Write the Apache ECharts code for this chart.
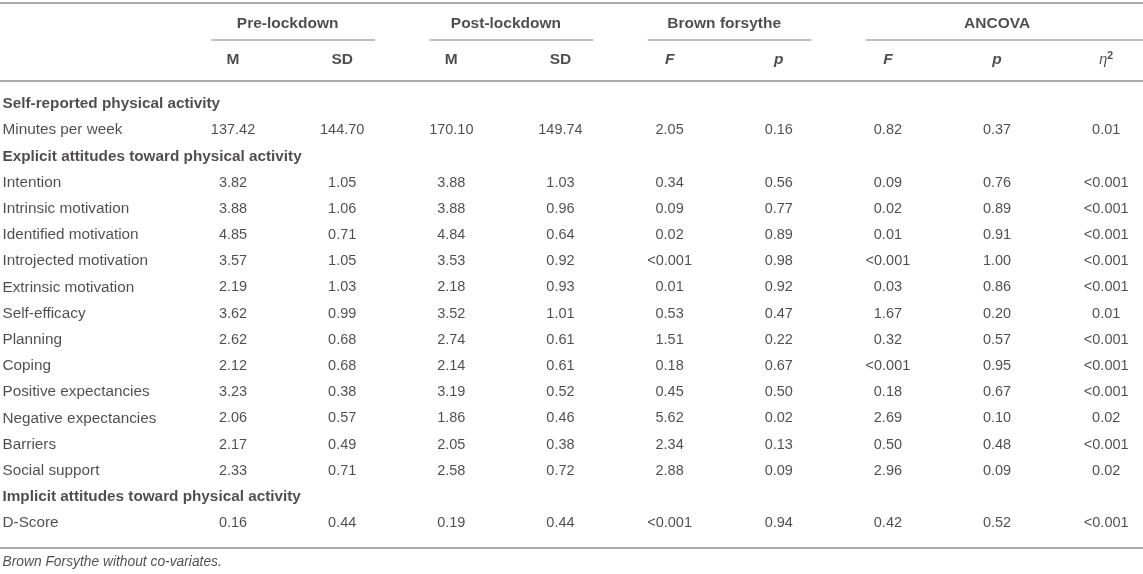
<!DOCTYPE html>
<html>
<head>
<meta charset="utf-8">
<script src="https://cdn.jsdelivr.net/npm/echarts@6/dist/echarts.min.js"></script>
<style>
  html, body { margin: 0; padding: 0; background: #fff; }
  #chart { width: 1143px; height: 574px; }
</style>
</head>
<body>
<div id="chart"></div>
<script>
// ---------- DATA ----------
const groupNames = ['Pre-lockdown', 'Post-lockdown', 'Brown forsythe', 'ANCOVA'];
const groupStart = [0, 2, 4, 6];
const groupEnd   = [1, 3, 5, 8];
const columnHeads = ['M', 'SD', 'M', 'SD', 'F', 'p', 'F', 'p', 'η2'];

const rowLabels = [
  'Self-reported physical activity',
  'Minutes per week',
  'Explicit attitudes toward physical activity',
  'Intention',
  'Intrinsic motivation',
  'Identified motivation',
  'Introjected motivation',
  'Extrinsic motivation',
  'Self-efficacy',
  'Planning',
  'Coping',
  'Positive expectancies',
  'Negative expectancies',
  'Barriers',
  'Social support',
  'Implicit attitudes toward physical activity',
  'D-Score'
];
const sectionRows = [0, 2, 15];

const preM   = [null,'137.42',null,'3.82','3.88','4.85','3.57','2.19','3.62','2.62','2.12','3.23','2.06','2.17','2.33',null,'0.16'];
const preSD  = [null,'144.70',null,'1.05','1.06','0.71','1.05','1.03','0.99','0.68','0.68','0.38','0.57','0.49','0.71',null,'0.44'];
const postM  = [null,'170.10',null,'3.88','3.88','4.84','3.53','2.18','3.52','2.74','2.14','3.19','1.86','2.05','2.58',null,'0.19'];
const postSD = [null,'149.74',null,'1.03','0.96','0.64','0.92','0.93','1.01','0.61','0.61','0.52','0.46','0.38','0.72',null,'0.44'];
const bfF    = [null,'2.05',null,'0.34','0.09','0.02','<0.001','0.01','0.53','1.51','0.18','0.45','5.62','2.34','2.88',null,'<0.001'];
const bfP    = [null,'0.16',null,'0.56','0.77','0.89','0.98','0.92','0.47','0.22','0.67','0.50','0.02','0.13','0.09',null,'0.94'];
const ancF   = [null,'0.82',null,'0.09','0.02','0.01','<0.001','0.03','1.67','0.32','<0.001','0.18','2.69','0.50','2.96',null,'0.42'];
const ancP   = [null,'0.37',null,'0.76','0.89','0.91','1.00','0.86','0.20','0.57','0.95','0.67','0.10','0.48','0.09',null,'0.52'];
const eta2   = [null,'0.01',null,'<0.001','<0.001','<0.001','<0.001','<0.001','0.01','<0.001','<0.001','<0.001','0.02','<0.001','0.02',null,'<0.001'];

const footnote = 'Brown Forsythe without co-variates.';

// ---------- LAYOUT (axis units: columns = index, rows = index) ----------
const columns = [preM, preSD, postM, postSD, bfF, bfP, ancF, ancP, eta2];
const X_MIN = -2.135, X_MAX = 8.337;
const Y_MIN = -3.97,  Y_MAX = 17.94;
const Y_TOP_RULE = -3.855, Y_GROUP = -3.05, Y_GROUP_RULE = -2.443,
      Y_SUB = -1.68, Y_HEAD_RULE = -0.878, Y_BOTTOM_RULE = 16.95, Y_NOTE = 17.48;

const FONT = '"Liberation Sans", Arial, Helvetica, sans-serif';
const TXT = '#231f20';
const FS = 14.5;       // numbers
const FS_ROW = 15.3;   // row labels
const FS_HEAD = 15.5;  // headers
const RULE = '#ababab';

// ---------- BUILD ----------
const cellData = [];
columns.forEach((col, c) => {
  col.forEach((v, r) => {
    if (v !== null) cellData.push({ value: [c, r], name: v });
  });
});

const rowData = rowLabels.map((t, r) => ({
  value: [X_MIN, r],
  name: t,
  label: { fontWeight: sectionRows.includes(r) ? 'bold' : 'normal' }
}));

const groupData = groupNames.map((g, i) => ({
  value: [(groupStart[i] + groupEnd[i]) / 2, Y_GROUP],
  name: g
}));

const subData = columnHeads.map((h, c) => ({ value: [c, Y_SUB], name: h }));

function hRule(x1, x2, y, w) {
  return {
    type: 'line', data: [[x1, y], [x2, y]], symbol: 'none', silent: true,
    clip: false, animation: false,
    lineStyle: { color: RULE, width: w }
  };
}

const series = [
  hRule(X_MIN, X_MAX, Y_TOP_RULE, 2),
  hRule(X_MIN, X_MAX, Y_HEAD_RULE, 2),
  hRule(X_MIN, X_MAX, Y_BOTTOM_RULE, 2)
];
groupNames.forEach((g, i) => {
  const last = i === groupNames.length - 1;
  series.push(hRule(groupStart[i] - 0.2, last ? X_MAX : groupEnd[i] + 0.3, Y_GROUP_RULE, 1.5));
});

const baseLabel = {
  show: true, fontFamily: FONT, fontSize: FS, color: TXT,
  formatter: '{b}'
};

series.push({
  type: 'scatter', symbolSize: 1, itemStyle: { color: 'rgba(0,0,0,0)' },
  clip: false, silent: true, animation: false,
  data: cellData,
  label: Object.assign({}, baseLabel, { position: 'inside', align: 'center', verticalAlign: 'middle' })
});
series.push({
  type: 'scatter', symbolSize: 1, itemStyle: { color: 'rgba(0,0,0,0)' },
  clip: false, silent: true, animation: false,
  data: rowData,
  label: Object.assign({}, baseLabel, { fontSize: FS_ROW, position: 'right', distance: 2, align: 'left', verticalAlign: 'middle' })
});
series.push({
  type: 'scatter', symbolSize: 1, itemStyle: { color: 'rgba(0,0,0,0)' },
  clip: false, silent: true, animation: false,
  data: groupData,
  label: Object.assign({}, baseLabel, { fontSize: FS_HEAD, fontWeight: 'bold', position: 'inside', align: 'center', verticalAlign: 'middle' })
});
series.push({
  type: 'scatter', symbolSize: 1, itemStyle: { color: 'rgba(0,0,0,0)' },
  clip: false, silent: true, animation: false,
  data: subData,
  label: Object.assign({}, baseLabel, {
    position: 'inside', align: 'center', verticalAlign: 'middle',
    formatter: function (p) {
      const t = p.name;
      if (t === 'M' || t === 'SD') return '{b|' + t + '}';
      if (t === 'η2') return '{e|η}{s|2}';
      return '{i|' + t + '}';
    },
    rich: {
      b: { fontFamily: FONT, fontSize: FS_HEAD, fontWeight: 'bold', color: TXT },
      i: { fontFamily: FONT, fontSize: FS_HEAD, fontWeight: 'bold', fontStyle: 'italic', color: TXT },
      e: { fontFamily: FONT, fontSize: FS_HEAD - 1, fontStyle: 'italic', color: TXT, lineHeight: 18 },
      s: { fontFamily: FONT, fontSize: 10.5, fontWeight: 'bold', color: TXT, verticalAlign: 'top', lineHeight: 18, padding: [0, 0, 8, 0] }
    }
  })
});
series.push({
  type: 'scatter', symbolSize: 1, itemStyle: { color: 'rgba(0,0,0,0)' },
  clip: false, silent: true, animation: false,
  data: [{ value: [X_MIN, Y_NOTE], name: footnote }],
  label: Object.assign({}, baseLabel, { fontStyle: 'italic', fontSize: 13.8, position: 'right', distance: 2, align: 'left', verticalAlign: 'middle' })
});

const chart = echarts.init(document.getElementById('chart'), null, { renderer: 'canvas' });
chart.setOption({
  backgroundColor: '#ffffff',
  animation: false,
  grid: { left: 0, right: 0, top: 0, bottom: 0, containLabel: false },
  xAxis: { type: 'value', min: X_MIN, max: X_MAX, show: false },
  yAxis: { type: 'value', min: Y_MIN, max: Y_MAX, inverse: true, show: false },
  series: series
});
</script>
</body>
</html>
